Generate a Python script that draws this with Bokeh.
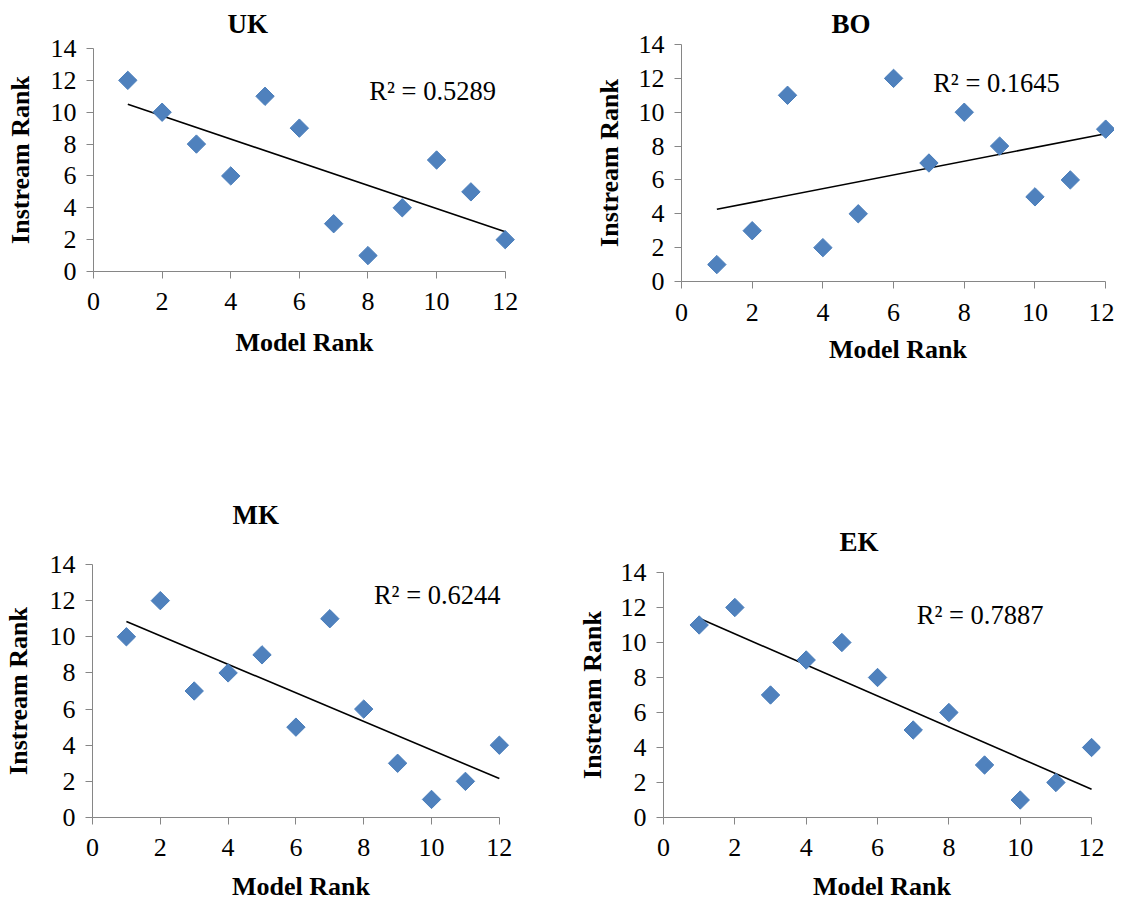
import numpy as np
from bokeh.plotting import figure
from bokeh.models import Range1d, Label, FixedTicker
from bokeh.layouts import column, row
from bokeh.embed import file_html
from bokeh.resources import INLINE

# ---------------- data ----------------
model_rank = [1, 2, 3, 4, 5, 6, 7, 8, 9, 10, 11, 12]
uk_instream = [12, 10, 8, 6, 11, 9, 3, 1, 4, 7, 5, 2]
bo_instream = [1, 3, 11, 2, 4, 12, 7, 10, 8, 5, 6, 9]
mk_instream = [10, 12, 7, 8, 9, 5, 11, 6, 3, 1, 2, 4]
ek_instream = [11, 12, 7, 9, 10, 8, 5, 6, 3, 1, 2, 4]
panel_titles = ["UK", "BO", "MK", "EK"]
r2_labels = ["R² = 0.5289", "R² = 0.1645", "R² = 0.6244", "R² = 0.7887"]
x_ticks = [0, 2, 4, 6, 8, 10, 12]
y_ticks = [0, 2, 4, 6, 8, 10, 12, 14]
x_title = "Model Rank"
y_title = "Instream Rank"

SERIF = "Liberation Serif"
AXIS_GREY = "#868686"
MARKER = "#4F81BD"


def panel(title, yvals, r2, lay):
    p = figure(output_backend="svg", toolbar_location=None,
               frame_width=lay["fw"], frame_height=lay["fh"],
               min_border_left=lay["bl"], min_border_right=lay["br"],
               min_border_top=lay["bt"], min_border_bottom=lay["bb"],
               x_range=Range1d(0, lay["xend"]), y_range=Range1d(0, 14),
               background_fill_color="white", border_fill_color="white")
    p.outline_line_color = None
    p.grid.visible = False

    p.title.text = title
    p.title.text_font = SERIF
    p.title.text_font_style = "bold"
    p.title.text_font_size = "27px"
    p.title.text_color = "black"
    p.title.align = "left"
    p.title.offset = lay["toff"]
    p.title.standoff = lay["tstand"]
    p.title.vertical_align = lay["tva"]

    for ax, ticks, lab in ((p.xaxis[0], x_ticks, x_title), (p.yaxis[0], y_ticks, y_title)):
        ax.ticker = FixedTicker(ticks=ticks)
        ax.minor_tick_line_color = None
        ax.axis_line_color = AXIS_GREY
        ax.major_tick_line_color = AXIS_GREY
        ax.major_tick_in = 0
        ax.major_tick_out = 7
        ax.major_label_text_font = SERIF
        ax.major_label_text_font_size = "26px"
        ax.major_label_text_color = "black"
        ax.axis_label = lab
        ax.axis_label_text_font = SERIF
        ax.axis_label_text_font_style = "bold"
        ax.axis_label_text_font_size = "26px"
        ax.axis_label_text_color = "black"
    p.xaxis[0].bounds = (0, 12)
    p.xaxis[0].major_label_standoff = lay["xls"]
    p.xaxis[0].axis_label_standoff = lay["xas"]
    p.yaxis[0].major_label_standoff = 10
    p.yaxis[0].axis_label_standoff = lay["yas"]

    # linear trendline from least squares fit of the data
    slope, icpt = np.polyfit(model_rank, yvals, 1)
    xs = [model_rank[0], model_rank[-1]]
    p.line(xs, [slope * v + icpt for v in xs], line_color="black", line_width=1.6)

    p.scatter(model_rank, yvals, marker="square", size=13, angle=np.pi / 4,
              fill_color=MARKER, line_color="#4A7EBB", line_width=1)

    p.add_layout(Label(x=lay["rx"], y=lay["ry"], text=r2, text_font=SERIF,
                       text_font_size="26.5px", text_color="black",
                       text_baseline="middle", text_align="left"))
    return p


lay_uk = dict(fw=422, fh=223, bl=93, br=25, bt=48, bb=95, xend=12.3,
              toff=134, tstand=16, tva="top", xls=14, xas=15, yas=13,
              rx=8.04, ry=11.36)
lay_bo = dict(fw=433, fh=237, bl=141, br=0, bt=44, bb=95, xend=12.25,
              toff=150, tstand=12, tva="bottom", xls=15, xas=11, yas=12,
              rx=7.12, ry=11.75)
lay_mk = dict(fw=417, fh=253, bl=91, br=32, bt=188, bb=83, xend=12.3,
              toff=140, tstand=70, tva="bottom", xls=14, xas=13, yas=14,
              rx=8.30, ry=12.33)
lay_ek = dict(fw=437, fh=245, bl=122, br=10, bt=196, bb=83, xend=12.25,
              toff=176, tstand=32, tva="bottom", xls=14, xas=13, yas=11,
              rx=7.10, ry=11.6)

p_uk = panel(panel_titles[0], uk_instream, r2_labels[0], lay_uk)
p_bo = panel(panel_titles[1], bo_instream, r2_labels[1], lay_bo)
p_mk = panel(panel_titles[2], mk_instream, r2_labels[2], lay_mk)
p_ek = panel(panel_titles[3], ek_instream, r2_labels[3], lay_ek)

layout = column(
    row(column(p_uk, spacing=0), column(p_bo, spacing=0), spacing=0),
    row(column(p_mk, spacing=0), column(p_ek, spacing=0), spacing=0),
    spacing=0)

open("out.html", "w").write(file_html(layout, INLINE))
